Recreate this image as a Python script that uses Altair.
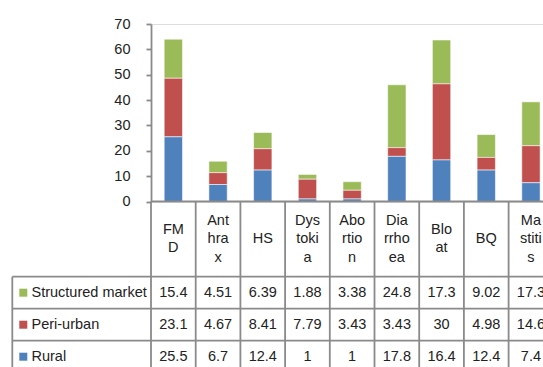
import altair as alt
import pandas as pd

# Disease categories, the wrapped labels shown in the table header, and the three series
categories = ["FMD", "Anthrax", "HS", "Dystokia", "Abortion", "Diarrhoea", "Bloat", "BQ", "Mastitis"]
header_labels = ["FM\nD", "Ant\nhra\nx", "HS", "Dys\ntoki\na", "Abo\nrtio\nn", "Dia\nrrho\nea", "Blo\nat", "BQ", "Ma\nstiti\ns"]
series = ["Structured market", "Peri-urban", "Rural"]
structured_market = [15.4, 4.51, 6.39, 1.88, 3.38, 24.8, 17.3, 9.02, 17.3]
peri_urban = [23.1, 4.67, 8.41, 7.79, 3.43, 3.43, 30, 4.98, 14.6]
rural = [25.5, 6.7, 12.4, 1, 1, 17.8, 16.4, 12.4, 7.4]
colors = ["#9BBB59", "#C0504D", "#4F81BD"]

values = {"Structured market": structured_market, "Peri-urban": peri_urban, "Rural": rural}
rows = []
for s_idx, s in enumerate(series):
    for c, v in zip(categories, values[s]):
        rows.append({"category": c, "series": s, "value": v, "stack": 2 - s_idx})
long_df = pd.DataFrame(rows)
cat_df = pd.DataFrame({
    "category": categories,
    "label": header_labels,
    "nlines": [lab.count("\n") + 1 for lab in header_labels],
})
series_df = pd.DataFrame({"series": series})

GRID = "#8a8a8a"
TABLE_FONT = "Liberation Sans, Arial, sans-serif"
TABLE_SIZE = 14.5
LINE_H = 18.5
STEP = 44.7
x_scale = alt.Scale(domain=categories, range=[0, STEP * len(categories)], paddingInner=0, paddingOuter=0)
x_enc = alt.X("category:N", scale=x_scale, axis=None, sort=categories)
row_scale = alt.Scale(domain=series, range=[252.7, 252.7 + 3 * 32], paddingInner=0, paddingOuter=0)
color_scale = alt.Scale(domain=series, range=colors)
# first-line position of a header label, so each wrapped block is centred in the header row
first_line_scale = alt.Scale(type="point", domain=[1, 2, 3], range=[215, 215 - LINE_H], padding=0)

bars = alt.Chart(long_df).mark_bar(
    width=alt.RelativeBandSize(0.41), stroke="white", strokeWidth=0.8, strokeOpacity=0.7
).encode(
    x=x_enc,
    y=alt.Y("value:Q", stack="zero",
            scale=alt.Scale(domain=[0, 70], nice=False),
            axis=alt.Axis(values=list(range(0, 71, 10)), title=None, grid=False,
                          domainColor=GRID, domainWidth=1.8, tickColor=GRID, tickWidth=1.8,
                          tickSize=5, labelPadding=16, labelFont="Liberation Sans",
                          labelFontSize=14.5, labelColor="#222222")),
    color=alt.Color("series:N", scale=color_scale, legend=None),
    order=alt.Order("stack:Q"),
)

# table grid: top edge along the baseline, row borders, column borders
top_line = alt.Chart(series_df.head(1)).mark_rule(color=GRID, strokeWidth=1.8).encode(
    x=alt.value(0), x2=alt.value(600), y=alt.value(177.5))
row_lines = alt.Chart(series_df).mark_rule(color=GRID, strokeWidth=1.8).encode(
    y=alt.Y("series:N", scale=row_scale, axis=None, bandPosition=0),
    x=alt.value(-138.7), x2=alt.value(600))
left_edge = alt.Chart(series_df.head(1)).mark_rule(color=GRID, strokeWidth=1.8).encode(
    x=alt.value(-138.7), y=alt.value(252.7), y2=alt.value(400))
col_lines = alt.Chart(cat_df).mark_rule(color=GRID, strokeWidth=1.8).encode(
    x=alt.X("category:N", scale=x_scale, axis=None, sort=categories, bandPosition=0),
    y=alt.value(177.5), y2=alt.value(400))

header = alt.Chart(cat_df).mark_text(
    font=TABLE_FONT, fontSize=TABLE_SIZE, lineBreak="\n", lineHeight=LINE_H,
    color="#222222", baseline="middle"
).encode(
    x=x_enc,
    y=alt.Y("nlines:O", scale=first_line_scale, axis=None),
    text="label:N",
)

cells = alt.Chart(long_df).mark_text(
    font=TABLE_FONT, fontSize=TABLE_SIZE, color="#222222", baseline="middle"
).encode(
    x=x_enc,
    y=alt.Y("series:N", scale=row_scale, axis=None),
    text=alt.Text("value:Q"),
)

keys = alt.Chart(series_df).mark_square(size=64, opacity=1).encode(
    x=alt.value(-127.7),
    y=alt.Y("series:N", scale=row_scale, axis=None),
    color=alt.Color("series:N", scale=color_scale, legend=None),
)
key_labels = alt.Chart(series_df).mark_text(
    font=TABLE_FONT, fontSize=TABLE_SIZE, color="#222222", align="left", baseline="middle"
).encode(
    x=alt.value(-119.5),
    y=alt.Y("series:N", scale=row_scale, axis=None),
    text="series:N",
)

chart = alt.layer(
    bars, top_line, row_lines, left_edge, col_lines, header, cells, keys, key_labels
).resolve_scale(y="independent").properties(
    width=392, height=177.5,
    autosize=alt.AutoSizeParams(type="none"),
    padding={"left": 151, "top": 24, "right": 0, "bottom": 165.5},
).configure_view(stroke=None).configure(background="white")

chart.save("out.html", embed_options={"renderer": "svg", "actions": False})
